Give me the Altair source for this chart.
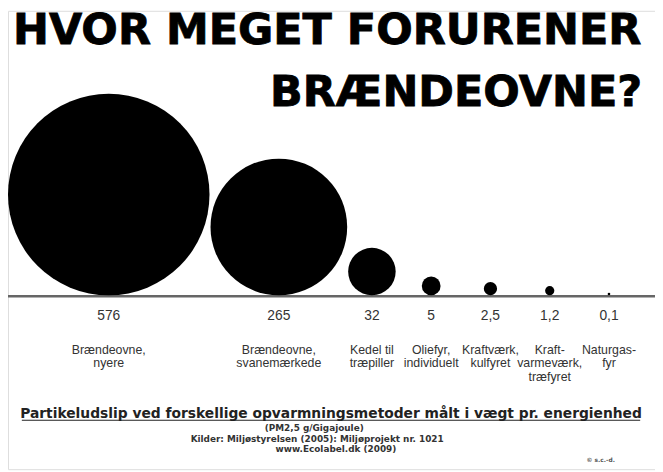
import math
import altair as alt
import pandas as pd

# ---- data ----
categories = [
    "Brændeovne,\nnyere",
    "Brændeovne,\nsvanemærkede",
    "Kedel til\ntræpiller",
    "Oliefyr,\nindividuelt",
    "Kraftværk,\nkulfyret",
    "Kraft-\nvarmeværk,\ntræfyret",
    "Naturgas-\nfyr",
]
values = [576, 265, 32, 5, 2.5, 1.2, 0.1]

title_line1 = "HVOR MEGET FORURENER"
title_line2 = "BRÆNDEOVNE?"
footer_main = "Partikeludslip ved forskellige opvarmningsmetoder målt i vægt pr. energienhed"
footer_unit = "(PM2,5 g/Gigajoule)"
footer_src1 = "Kilder: Miljøstyrelsen (2005): Miljøprojekt nr. 1021"
footer_src2 = "www.Ecolabel.dk (2009)"
footer_copy = "© s.c.-d."

# ---- layout (chart pixel units) ----
W, H = 655, 464
BASE = 288.5            # baseline of the circles
MAX_D = 204.0           # diameter of the largest circle
vmax = max(values)
GAP, MIN_STEP = 1.0, 60.0

diam = [MAX_D * math.sqrt(v / vmax) for v in values]
centers = []
for i, d in enumerate(diam):
    if i == 0:
        centers.append(d / 2)
    else:
        packed = centers[-1] + diam[i - 1] / 2 + GAP + d / 2
        centers.append(max(packed, centers[-1] + MIN_STEP))

def fmt(v):
    return ("%g" % v).replace(".", ",")

df = pd.DataFrame({
    "cat": categories,
    "value": values,
    "label": [fmt(v) for v in values],
    "cx": centers,
    "r": [d / 2 + 0.5 for d in diam],
})

xs = alt.Scale(domain=[0, W], range=[0, W], nice=False, zero=False)
ys = alt.Scale(domain=[0, BASE], range=[BASE, 0], nice=False, zero=False)

base = alt.Chart(df)

# Vega circle symbol: diameter = sqrt(size)
circles = base.mark_point(filled=True, color="black", opacity=1, strokeWidth=0, shape="circle").encode(
    x=alt.X("cx:Q", scale=xs, axis=None),
    y=alt.Y("r:Q", scale=ys, axis=None),
    size=alt.Size("value:Q", scale=alt.Scale(domain=[0, vmax], range=[0, MAX_D ** 2]), legend=None),
)

baseline = alt.Chart(pd.DataFrame({"a": [0]})).mark_rule(color="#666", strokeWidth=2.5).encode(
    x=alt.value(-5), x2=alt.value(W), y=alt.value(BASE + 0.5)
)

value_text = base.mark_text(fontSize=14, font="Liberation Sans", color="#333", baseline="alphabetic").encode(
    x=alt.X("cx:Q", scale=xs), y=alt.value(313), text="label:N"
)

cat_text = base.mark_text(fontSize=12.5, font="Liberation Sans", color="#333", baseline="alphabetic",
                          lineBreak="\n", lineHeight=14).encode(
    x=alt.X("cx:Q", scale=xs), y=alt.value(347), text="cat:N"
)

def static_text(txt, x, y, **kw):
    return alt.Chart(pd.DataFrame({"t": [txt]})).mark_text(baseline="alphabetic", **kw).encode(
        x=alt.value(x), y=alt.value(y), text="t:N"
    )

t1 = static_text(title_line1, 5, 34, align="left", font="DejaVu Sans", fontWeight="bold", fontSize=43.5,
                 color="black", stroke="black", strokeWidth=0.8)
t2 = static_text(title_line2, 642, 96, align="right", font="DejaVu Sans", fontWeight="bold", fontSize=43.5,
                 color="black", stroke="black", strokeWidth=0.8)

f1 = static_text(footer_main, 327, 412, align="center", font="DejaVu Sans", fontWeight="bold",
                 fontSize=14, color="#222")
f1u = alt.Chart(pd.DataFrame({"a": [0]})).mark_rule(color="#222", strokeWidth=1.2).encode(
    x=alt.value(14), x2=alt.value(640), y=alt.value(414.5)
)
f2 = static_text(footer_unit, 310, 425, align="center", font="DejaVu Sans", fontWeight="bold",
                 fontSize=9, color="#333")
f3 = static_text(footer_src1, 313, 436, align="center", font="DejaVu Sans", fontWeight="bold",
                 fontSize=9, color="#333")
f4 = static_text(footer_src2, 332, 447, align="center", font="DejaVu Sans", fontWeight="bold",
                 fontSize=9, color="#333")
f5 = static_text(footer_copy, 600, 457, align="center", font="DejaVu Sans", fontWeight="bold",
                 fontSize=6, color="#555")

chart = alt.layer(baseline, circles, value_text, cat_text, t1, t2, f1, f1u, f2, f3, f4, f5).properties(
    width=W, height=H, padding=0, autosize=alt.AutoSizeParams(type="none"),
).configure_view(stroke=None).configure(background="white")

chart.save("out.html", embed_options={"renderer": "svg", "actions": False})
